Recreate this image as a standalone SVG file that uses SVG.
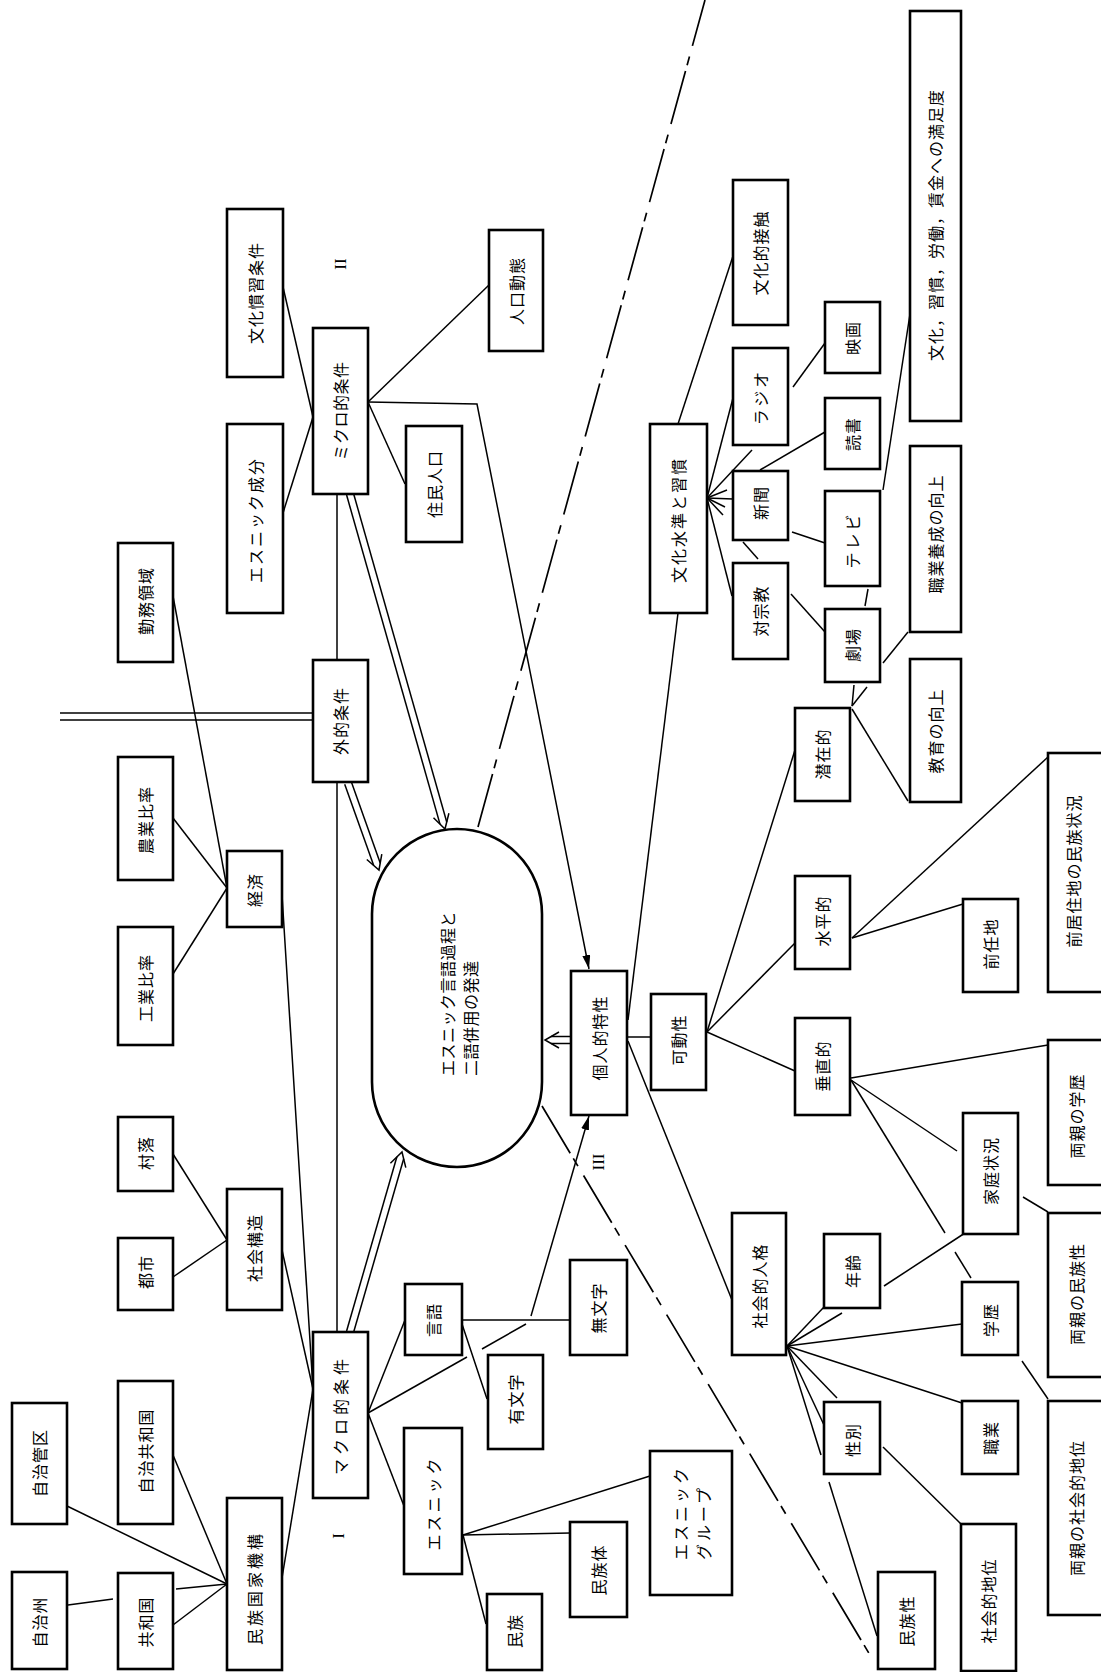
<svg xmlns="http://www.w3.org/2000/svg" width="1101" height="1672" viewBox="0 0 1101 1672">
<style>
.b{fill:#fff;stroke:#000;stroke-width:2.6}
.l{stroke:#000;stroke-width:1.5;fill:none}
.d{stroke:#000;stroke-width:1.7;fill:none;stroke-dasharray:55 6 9 11}
.t{font-family:"Noto Sans CJK JP","Noto Sans CJK SC",sans-serif;font-size:16px;text-anchor:middle;dominant-baseline:central;letter-spacing:1px;fill:#000}
.s{font-family:"Noto Sans CJK JP","Noto Sans CJK SC",sans-serif;font-size:16px;dominant-baseline:central;letter-spacing:0.5px;fill:#000}
.r{font-family:"Liberation Serif",serif;font-size:17px;text-anchor:middle;dominant-baseline:central;fill:#000}
</style>
<defs>
<marker id="ah" viewBox="0 0 14 8" refX="14" refY="4" markerWidth="14" markerHeight="8" orient="auto" markerUnits="userSpaceOnUse"><path d="M0,0 L14,4 L0,8 z" fill="#000"/></marker>
</defs>
<rect width="1101" height="1672" fill="#fff"/>
<g id="connectors">
<line class="l" x1="283" y1="287" x2="313" y2="417"/>
<line class="l" x1="283" y1="513" x2="313" y2="417"/>
<line class="l" x1="368" y1="402" x2="489" y2="285"/>
<line class="l" x1="368" y1="402" x2="405" y2="484"/>
<polyline class="l" points="368,402 477,404 589,969" marker-end="url(#ah)"/>
<line class="l" x1="337" y1="494" x2="337" y2="660"/>
<line class="l" x1="337" y1="782" x2="337" y2="1332"/>
<line class="l" x1="60" y1="713" x2="313" y2="713"/>
<line class="l" x1="60" y1="720" x2="313" y2="720"/>
<line class="l" x1="173" y1="596" x2="227" y2="888"/>
<line class="l" x1="173" y1="818" x2="227" y2="888"/>
<line class="l" x1="173" y1="974" x2="227" y2="888"/>
<line class="l" x1="282" y1="895" x2="313" y2="1389"/>
<line class="l" x1="173" y1="1154" x2="227" y2="1240"/>
<line class="l" x1="173" y1="1277" x2="227" y2="1240"/>
<line class="l" x1="282" y1="1250" x2="313" y2="1389"/>
<line class="l" x1="282" y1="1578" x2="313" y2="1389"/>
<line class="l" x1="68" y1="1605" x2="113" y2="1599"/>
<line class="l" x1="176" y1="1589" x2="227" y2="1584"/>
<line class="l" x1="173" y1="1625" x2="227" y2="1584"/>
<line class="l" x1="67" y1="1506" x2="227" y2="1584"/>
<line class="l" x1="173" y1="1455" x2="227" y2="1584"/>
<line class="l" x1="368" y1="1413" x2="405" y2="1320"/>
<line class="l" x1="368" y1="1413" x2="467" y2="1357"/>
<line class="l" x1="482" y1="1349" x2="526" y2="1324"/>
<line class="l" x1="531" y1="1316" x2="589" y2="1116" marker-end="url(#ah)"/>
<line class="l" x1="368" y1="1413" x2="404" y2="1506"/>
<line class="l" x1="462" y1="1320" x2="570" y2="1320"/>
<line class="l" x1="462" y1="1324" x2="487" y2="1399"/>
<line class="l" x1="463" y1="1535" x2="650" y2="1476"/>
<line class="l" x1="463" y1="1535" x2="570" y2="1533"/>
<line class="l" x1="463" y1="1535" x2="486" y2="1624"/>
<line class="l" x1="627" y1="1037" x2="651" y2="1037"/>
<line class="l" x1="628" y1="1020" x2="678" y2="613"/>
<line class="l" x1="628" y1="1041" x2="732" y2="1300"/>
<line class="l" x1="678" y1="424" x2="733" y2="256"/>
<line class="l" x1="707" y1="498" x2="733" y2="398"/>
<line class="l" x1="707" y1="498" x2="752" y2="450"/>
<line class="l" x1="707" y1="498" x2="727" y2="490"/>
<line class="l" x1="707" y1="498" x2="733" y2="499"/>
<line class="l" x1="707" y1="498" x2="725" y2="507"/>
<line class="l" x1="707" y1="498" x2="723" y2="515"/>
<line class="l" x1="707" y1="498" x2="732" y2="596"/>
<line class="l" x1="743" y1="542" x2="758" y2="559"/>
<line class="l" x1="760" y1="470" x2="825" y2="432"/>
<line class="l" x1="793" y1="387" x2="825" y2="343"/>
<line class="l" x1="792" y1="532" x2="825" y2="543"/>
<line class="l" x1="883" y1="490" x2="910" y2="314"/>
<line class="l" x1="868" y1="589" x2="865" y2="606"/>
<line class="l" x1="791" y1="594" x2="825" y2="632"/>
<line class="l" x1="883" y1="663" x2="908" y2="632"/>
<line class="l" x1="852" y1="706" x2="854" y2="685"/>
<line class="l" x1="852" y1="706" x2="867" y2="687"/>
<line class="l" x1="852" y1="709" x2="908" y2="801"/>
<line class="l" x1="707" y1="1032" x2="795" y2="750"/>
<line class="l" x1="707" y1="1032" x2="795" y2="943"/>
<line class="l" x1="707" y1="1032" x2="795" y2="1071"/>
<line class="l" x1="852" y1="938" x2="963" y2="904"/>
<line class="l" x1="852" y1="938" x2="1048" y2="757"/>
<line class="l" x1="851" y1="1078" x2="1048" y2="1045"/>
<line class="l" x1="851" y1="1080" x2="957" y2="1151"/>
<line class="l" x1="851" y1="1080" x2="945" y2="1233"/>
<line class="l" x1="955" y1="1252" x2="971" y2="1278"/>
<line class="l" x1="1023" y1="1197" x2="1048" y2="1212"/>
<line class="l" x1="1022" y1="1361" x2="1048" y2="1399"/>
<line class="l" x1="884" y1="1286" x2="965" y2="1233"/>
<line class="l" x1="787" y1="1346" x2="824" y2="1307"/>
<line class="l" x1="787" y1="1346" x2="842" y2="1313"/>
<line class="l" x1="787" y1="1346" x2="962" y2="1324"/>
<line class="l" x1="787" y1="1346" x2="962" y2="1403"/>
<line class="l" x1="787" y1="1346" x2="837" y2="1398"/>
<line class="l" x1="787" y1="1346" x2="824" y2="1425"/>
<line class="l" x1="787" y1="1346" x2="821" y2="1455"/>
<line class="l" x1="829" y1="1482" x2="877" y2="1636"/>
<line class="l" x1="883" y1="1447" x2="961" y2="1524"/>
<line class="d" x1="478" y1="827" x2="705" y2="0"/>
<line class="d" x1="542" y1="1106" x2="870" y2="1655"/>
<g id="double-arrows">
<line class="l" x1="353.4" y1="493" x2="446.8" y2="822.2"/>
<line class="l" x1="346.6" y1="495" x2="440" y2="824.1"/>
<polyline class="l" points="448.9,813.3 445,829 433.5,817.7"/>
<line class="l" x1="351.3" y1="781.8" x2="380.3" y2="863.2"/>
<line class="l" x1="344.7" y1="784.2" x2="373.7" y2="865.6"/>
<polyline class="l" points="381.8,854.1 379,870 366.8,859.5"/>
<line class="l" x1="353.4" y1="1333" x2="403.7" y2="1158.8"/>
<line class="l" x1="346.6" y1="1331" x2="396.9" y2="1156.8"/>
<polyline class="l" points="405.8,1167.6 402,1152 390.4,1163.2"/>
<line class="l" x1="571" y1="1036.5" x2="551" y2="1036.5"/>
<line class="l" x1="571" y1="1043.5" x2="551" y2="1043.5"/>
<polyline class="l" points="559,1032 545,1040 559,1048"/>
</g>
</g>
<g id="nodes">
<g id="n-oval"><rect class="b" x="372" y="829" width="170" height="338" rx="85" ry="85"/>
<text class="s" transform="translate(447,1076) rotate(-90)">エスニック言語過程と</text>
<text class="s" transform="translate(470,1076) rotate(-90)">二語併用の発達</text></g>
<g id="n-bunka-kanshu"><rect class="b" x="227" y="209" width="56" height="168"/><text class="t" transform="translate(255,293) rotate(-90)">文化慣習条件</text></g>
<g id="n-ethnic-seibun"><rect class="b" x="227" y="424" width="56" height="189"/><text class="t" transform="translate(255,520) rotate(-90)" style="letter-spacing:2px">エスニック成分</text></g>
<g id="n-micro"><rect class="b" x="313" y="328" width="55" height="166"/><text class="t" transform="translate(340,411) rotate(-90)" style="letter-spacing:0.5px">ミクロ的条件</text></g>
<g id="n-kinmu"><rect class="b" x="118" y="543" width="55" height="119"/><text class="t" transform="translate(145,601) rotate(-90)">勤務領域</text></g>
<g id="n-jinko"><rect class="b" x="489" y="230" width="54" height="121"/><text class="t" transform="translate(516,291) rotate(-90)">人口動態</text></g>
<g id="n-jumin"><rect class="b" x="406" y="426" width="56" height="116"/><text class="t" transform="translate(434,484) rotate(-90)">住民人口</text></g>
<g id="n-manzoku"><rect class="b" x="910" y="11" width="51" height="410"/><text class="t" transform="translate(935,225) rotate(-90)" style="letter-spacing:1px">文化，習慣，労働，賃金への満足度</text></g>
<g id="n-bunka-sesshoku"><rect class="b" x="733" y="180" width="55" height="145"/><text class="t" transform="translate(760,253) rotate(-90)">文化的接触</text></g>
<g id="n-eiga"><rect class="b" x="825" y="302" width="55" height="71"/><text class="t" transform="translate(852,338) rotate(-90)">映画</text></g>
<g id="n-radio"><rect class="b" x="733" y="348" width="55" height="97"/><text class="t" transform="translate(760,397) rotate(-90)" style="letter-spacing:3px">ラジオ</text></g>
<g id="n-dokusho"><rect class="b" x="825" y="398" width="55" height="71"/><text class="t" transform="translate(852,434) rotate(-90)">読書</text></g>
<g id="n-shinbun"><rect class="b" x="733" y="471" width="55" height="69"/><text class="t" transform="translate(760,503) rotate(-90)">新聞</text></g>
<g id="n-terebi"><rect class="b" x="825" y="491" width="55" height="95"/><text class="t" transform="translate(852,540) rotate(-90)" style="letter-spacing:3px">テレビ</text></g>
<g id="n-shokugyo-yosei"><rect class="b" x="910" y="446" width="51" height="186"/><text class="t" transform="translate(935,534) rotate(-90)">職業養成の向上</text></g>
<g id="n-taishukyo"><rect class="b" x="733" y="563" width="55" height="96"/><text class="t" transform="translate(760,611) rotate(-90)">対宗教</text></g>
<g id="n-bunka-suijun"><rect class="b" x="650" y="424" width="57" height="189"/><text class="t" transform="translate(678,520) rotate(-90)" style="letter-spacing:2px">文化水準と習慣</text></g>
<g id="n-gekijo"><rect class="b" x="825" y="609" width="55" height="73"/><text class="t" transform="translate(852,645) rotate(-90)">劇場</text></g>
<g id="n-kyoiku"><rect class="b" x="910" y="659" width="51" height="143"/><text class="t" transform="translate(935,731) rotate(-90)">教育の向上</text></g>
<g id="n-senzai"><rect class="b" x="795" y="708" width="55" height="93"/><text class="t" transform="translate(822,754) rotate(-90)">潜在的</text></g>
<g id="n-suihei"><rect class="b" x="795" y="876" width="55" height="93"/><text class="t" transform="translate(822,921) rotate(-90)">水平的</text></g>
<g id="n-zenninchi"><rect class="b" x="963" y="899" width="55" height="93"/><text class="t" transform="translate(990,944) rotate(-90)">前任地</text></g>
<g id="n-zenkyoju"><rect class="b" x="1048" y="753" width="58" height="239"/><text class="t" transform="translate(1073,871) rotate(-90)">前居住地の民族状況</text></g>
<g id="n-suichoku"><rect class="b" x="795" y="1018" width="55" height="97"/><text class="t" transform="translate(822,1066) rotate(-90)">垂直的</text></g>
<g id="n-kadosei"><rect class="b" x="651" y="994" width="55" height="96"/><text class="t" transform="translate(678,1040) rotate(-90)">可動性</text></g>
<g id="n-ryoshin-gakureki"><rect class="b" x="1048" y="1040" width="58" height="145"/><text class="t" transform="translate(1076,1116) rotate(-90)">両親の学歴</text></g>
<g id="n-katei"><rect class="b" x="963" y="1113" width="55" height="121"/><text class="t" transform="translate(990,1171) rotate(-90)">家庭状況</text></g>
<g id="n-ryoshin-minzokusei"><rect class="b" x="1048" y="1213" width="58" height="164"/><text class="t" transform="translate(1076,1294) rotate(-90)">両親の民族性</text></g>
<g id="n-ryoshin-chii"><rect class="b" x="1048" y="1401" width="58" height="214"/><text class="t" transform="translate(1076,1508) rotate(-90)">両親の社会的地位</text></g>
<g id="n-shakai-jinkaku"><rect class="b" x="732" y="1213" width="54" height="142"/><text class="t" transform="translate(759,1286) rotate(-90)">社会的人格</text></g>
<g id="n-nenrei"><rect class="b" x="824" y="1234" width="56" height="74"/><text class="t" transform="translate(852,1271) rotate(-90)">年齢</text></g>
<g id="n-gakureki"><rect class="b" x="962" y="1282" width="56" height="73"/><text class="t" transform="translate(990,1320) rotate(-90)">学歴</text></g>
<g id="n-seibetsu"><rect class="b" x="824" y="1402" width="56" height="72"/><text class="t" transform="translate(852,1440) rotate(-90)">性別</text></g>
<g id="n-shokugyo"><rect class="b" x="962" y="1401" width="56" height="73"/><text class="t" transform="translate(990,1438) rotate(-90)">職業</text></g>
<g id="n-minzokusei"><rect class="b" x="878" y="1572" width="57" height="97"/><text class="t" transform="translate(906,1621) rotate(-90)">民族性</text></g>
<g id="n-shakai-chii"><rect class="b" x="961" y="1524" width="55" height="147"/><text class="t" transform="translate(988,1601) rotate(-90)">社会的地位</text></g>
<g id="n-kojin"><rect class="b" x="571" y="971" width="56" height="144"/><text class="t" transform="translate(599,1038) rotate(-90)">個人的特性</text></g>
<g id="n-gengo"><rect class="b" x="405" y="1284" width="57" height="71"/><text class="t" transform="translate(433,1320) rotate(-90)">言語</text></g>
<g id="n-yumoji"><rect class="b" x="488" y="1355" width="55" height="94"/><text class="t" transform="translate(515,1399) rotate(-90)">有文字</text></g>
<g id="n-mumoji"><rect class="b" x="570" y="1260" width="57" height="95"/><text class="t" transform="translate(598,1308) rotate(-90)">無文字</text></g>
<g id="n-ethnic"><rect class="b" x="404" y="1428" width="58" height="146"/><text class="t" transform="translate(433,1503) rotate(-90)" style="letter-spacing:3px">エスニック</text></g>
<g id="n-ethnic-group"><rect class="b" x="650" y="1451" width="82" height="144"/>
<text class="s" transform="translate(680,1560) rotate(-90)" style="letter-spacing:3px">エスニック</text>
<text class="s" transform="translate(703,1560) rotate(-90)" style="letter-spacing:3px">グループ</text></g>
<g id="n-minzokutai"><rect class="b" x="570" y="1522" width="57" height="95"/><text class="t" transform="translate(598,1570) rotate(-90)">民族体</text></g>
<g id="n-minzoku"><rect class="b" x="487" y="1594" width="55" height="76"/><text class="t" transform="translate(514,1631) rotate(-90)">民族</text></g>
<g id="n-muraochi"><rect class="b" x="118" y="1117" width="55" height="74"/><text class="t" transform="translate(145,1153) rotate(-90)">村落</text></g>
<g id="n-toshi"><rect class="b" x="118" y="1238" width="55" height="72"/><text class="t" transform="translate(145,1272) rotate(-90)">都市</text></g>
<g id="n-shakai-kozo"><rect class="b" x="227" y="1189" width="55" height="121"/><text class="t" transform="translate(254,1248) rotate(-90)">社会構造</text></g>
<g id="n-jichi-kanku"><rect class="b" x="12" y="1403" width="55" height="121"/><text class="t" transform="translate(39,1463) rotate(-90)">自治管区</text></g>
<g id="n-jichi-kyowa"><rect class="b" x="118" y="1381" width="55" height="143"/><text class="t" transform="translate(145,1451) rotate(-90)">自治共和国</text></g>
<g id="n-minzoku-kokka"><rect class="b" x="227" y="1498" width="55" height="172"/><text class="t" transform="translate(254,1588) rotate(-90)" style="letter-spacing:3px">民族国家機構</text></g>
<g id="n-jichishu"><rect class="b" x="12" y="1572" width="55" height="97"/><text class="t" transform="translate(39,1622) rotate(-90)">自治州</text></g>
<g id="n-kyowakoku"><rect class="b" x="118" y="1573" width="55" height="96"/><text class="t" transform="translate(145,1622) rotate(-90)">共和国</text></g>
<g id="n-macro"><rect class="b" x="313" y="1332" width="55" height="166"/><text class="t" transform="translate(340,1415) rotate(-90)" style="letter-spacing:4px">マクロ的条件</text></g>
<g id="n-nogyo"><rect class="b" x="118" y="757" width="55" height="123"/><text class="t" transform="translate(145,820) rotate(-90)">農業比率</text></g>
<g id="n-kogyo"><rect class="b" x="118" y="927" width="55" height="118"/><text class="t" transform="translate(145,988) rotate(-90)">工業比率</text></g>
<g id="n-keizai"><rect class="b" x="227" y="851" width="55" height="76"/><text class="t" transform="translate(254,890) rotate(-90)">経済</text></g>
<g id="n-gaiteki"><rect class="b" x="313" y="660" width="55" height="122"/><text class="t" transform="translate(340,721) rotate(-90)">外的条件</text></g>
</g>
<g id="labels">
<text class="r" transform="translate(340,264) rotate(-90)">II</text>
<text class="r" transform="translate(338,1536) rotate(-90)">I</text>
<text class="r" transform="translate(598,1162) rotate(-90)">III</text>
</g>
</svg>
